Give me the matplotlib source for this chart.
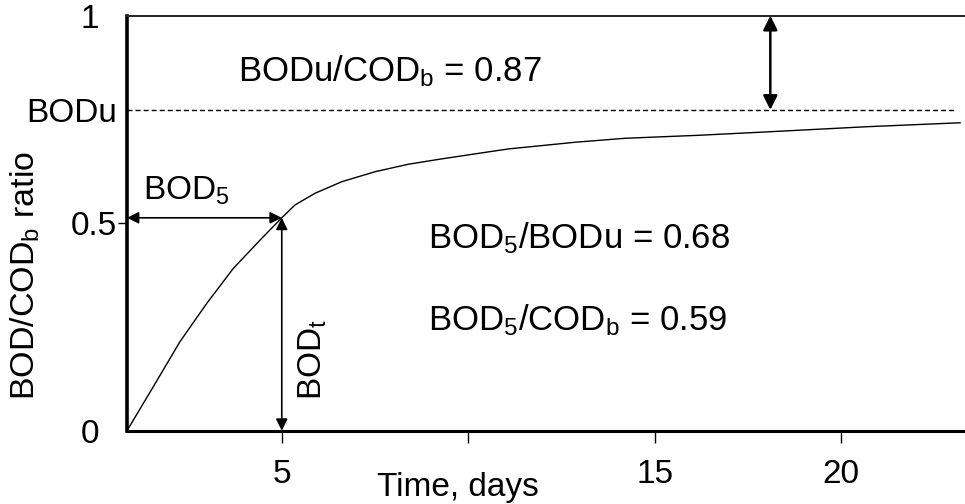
import matplotlib
matplotlib.use('Agg')
import matplotlib.pyplot as plt
import numpy as np

plt.rcParams['font.family'] = ['Liberation Sans', 'DejaVu Sans']
plt.rcParams['mathtext.fontset'] = 'custom'
plt.rcParams['mathtext.rm'] = 'Liberation Sans'
plt.rcParams['mathtext.it'] = 'Liberation Sans:italic'
plt.rcParams['mathtext.default'] = 'rm'

# BOD curve (days, BOD/CODb)
days = [0.85, 1.555, 2.27, 2.99, 3.70, 4.42, 5.00, 5.355, 5.89, 6.61, 7.50,
        8.39, 9.29, 10.18, 11.08, 11.97, 12.86, 14.20, 16.22, 18.00, 20.69,
        23.19]
ratio = [0.0, 0.106, 0.2145, 0.307, 0.391, 0.4595, 0.513, 0.544, 0.572,
         0.600, 0.624, 0.642, 0.655, 0.667, 0.679, 0.687, 0.695, 0.7046,
         0.712, 0.720, 0.7325, 0.742]

bod_u = 0.773       # dashed BODu level
bod_5 = 0.513       # BOD after 5 days
day_5 = 5.0
gap_day = 18.1      # where the BODu..1 arrow sits
dash_end = 23.05

x_ticks = [5, 10, 15, 20]
x_ticklabels = ['5', '', '15', '20']

fig = plt.figure(figsize=(9.65, 5.04), dpi=100)
ax = fig.add_axes([127 / 965, 73.3 / 504, 838 / 965, 415 / 504])
ax.set_xlim(0.85, 23.32)
ax.set_ylim(0, 1)

ax.plot(days, ratio, color='black', lw=1.0)
ax.plot([0.85, dash_end], [bod_u, bod_u], color='black', lw=1.0,
        linestyle=(0, (3.6, 2.2)))

# spines
ax.spines['right'].set_visible(False)
ax.spines['left'].set_linewidth(2.6)
ax.spines['bottom'].set_linewidth(2.2)
ax.spines['top'].set_linewidth(1.4)
ax.spines['top'].set_color('#222222')

# x ticks
ax.set_xticks(x_ticks, x_ticklabels)
ax.tick_params(axis='x', direction='out', length=8.6, width=1.0, pad=12,
               labelsize=24)
ax.set_xlabel('Time, days', fontsize=24)
ax.xaxis.set_label_coords((458 - 127) / 838, -0.1)

# y ticks: 0.5 with a tick mark, BODu label without, 0 and 1 further out
ax.set_yticks([0.5, bod_u], ['0.5', 'BODu'])
ax.tick_params(axis='y', which='major', direction='out', length=6.5,
               width=1.0, pad=0.5, labelsize=24)
ax.yaxis.get_major_ticks()[1].tick1line.set_visible(False)
ax.set_yticks([0, 1], ['0', '1'], minor=True)
ax.tick_params(axis='y', which='minor', length=0, pad=20, labelsize=24)

ax.set_ylabel(r'BOD/$\mathrm{COD_b}$ ratio', fontsize=24.5)
ax.yaxis.set_label_coords(-0.101, 0.375)

# arrows
arr = dict(arrowstyle='<|-|>,head_length=0.5,head_width=0.25',
           color='black', lw=1.2, shrinkA=0, shrinkB=0, mutation_scale=14)
ax.annotate('', xy=(0.85, bod_5), xytext=(day_5, bod_5), arrowprops=arr,
            annotation_clip=False)
ax.annotate('', xy=(day_5, bod_5), xytext=(day_5, 0), arrowprops=arr,
            annotation_clip=False)
arr2 = dict(arr, lw=1.8, mutation_scale=17)
ax.annotate('', xy=(gap_day, 1.0), xytext=(gap_day, bod_u), arrowprops=arr2,
            annotation_clip=False)

# labels
ax.text(1.28, 0.556, r'BOD$_5$', fontsize=24, ha='left', va='baseline')
ax.text(5.40, 0.074, r'BOD$_\mathrm{t}$', fontsize=24, rotation=90,
        ha='left', va='bottom')
ax.text(3.83, 0.841, r'BODu/$\mathrm{COD_b}$ = 0.87', fontsize=25,
        ha='left', va='baseline')
ax.text(8.93, 0.4395, r'BOD$_5$/BODu = 0.68', fontsize=25,
        ha='left', va='baseline')
ax.text(8.92, 0.2427, r'BOD$_5$/$\mathrm{COD_b}$ = 0.59', fontsize=25,
        ha='left', va='baseline')

fig.savefig('out.png', dpi=100)
